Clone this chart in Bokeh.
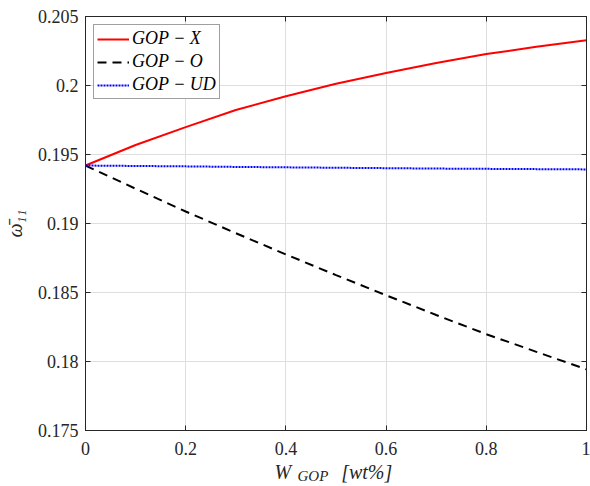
import numpy as np
from bokeh.plotting import figure
from bokeh.models import Range1d, LinearAxis, Label, Legend, LegendItem, FixedTicker
from bokeh.embed import file_html
from bokeh.resources import INLINE

# ---- data ----
w_gop = [0.0, 0.1, 0.2, 0.3, 0.4, 0.5, 0.6, 0.7, 0.8, 0.9, 1.0]
omega_gop_x = [0.19420, 0.19569, 0.19698, 0.19822, 0.19922, 0.20013, 0.20090,
               0.20163, 0.20228, 0.20280, 0.20328]
omega_gop_o = [0.19420, 0.19252, 0.19087, 0.18930, 0.18776, 0.18626, 0.18480,
               0.18337, 0.18198, 0.18070, 0.17943]
omega_gop_ud = [0.19420, 0.19417, 0.19414, 0.19410, 0.19407, 0.19404, 0.19401,
                0.19398, 0.19396, 0.19394, 0.19392]
series_labels = ["GOP \u2212 X", "GOP \u2212 O", "GOP \u2212 UD"]

x_ticks = [0, 0.2, 0.4, 0.6, 0.8, 1]
x_tick_labels = ["0", "0.2", "0.4", "0.6", "0.8", "1"]
y_ticks = [0.175, 0.18, 0.185, 0.19, 0.195, 0.2, 0.205]
y_tick_labels = ["0.175", "0.18", "0.185", "0.19", "0.195", "0.2", "0.205"]

FONT = "Liberation Serif"
AX = "#262626"

p = figure(width=590, height=486, output_backend="svg", toolbar_location=None,
           x_range=Range1d(0, 1), y_range=Range1d(0.175, 0.205),
           min_border_left=81, min_border_right=4, min_border_top=12, min_border_bottom=56)
p.background_fill_color = "white"
p.border_fill_color = "white"
p.outline_line_color = AX
p.outline_line_width = 1

r1 = p.line(w_gop, omega_gop_x, line_color="#ff0000", line_width=2)
r2 = p.line(w_gop, omega_gop_o, line_color="#000000", line_width=2, line_dash="9 6")
r3 = p.line(w_gop, omega_gop_ud, line_color="#0000ff", line_width=2, line_dash="2 1")

for ax in (p.xaxis[0], p.yaxis[0]):
    ax.axis_line_color = AX
    ax.major_tick_line_color = AX
    ax.major_tick_in = 5
    ax.major_tick_out = 0
    ax.minor_tick_line_color = None
    ax.major_label_text_font = FONT
    ax.major_label_text_font_size = "18px"
    ax.major_label_text_color = AX

p.xaxis[0].ticker = FixedTicker(ticks=x_ticks)
p.xaxis[0].major_label_overrides = {t: l for t, l in zip(x_ticks, x_tick_labels)}
p.xaxis[0].major_label_standoff = 11
p.yaxis[0].ticker = FixedTicker(ticks=y_ticks)
p.yaxis[0].major_label_overrides = {t: l for t, l in zip(y_ticks, y_tick_labels)}
p.yaxis[0].major_label_standoff = 7

p.yaxis[0].axis_label = "\u03c9\u0304\u2081\u2081"
p.yaxis[0].axis_label_text_font = FONT
p.yaxis[0].axis_label_text_font_style = "italic"
p.yaxis[0].axis_label_text_font_size = "20px"
p.yaxis[0].axis_label_text_color = AX
p.yaxis[0].axis_label_standoff = 9

# box ticks on top and right
top = LinearAxis(ticker=FixedTicker(ticks=x_ticks))
right = LinearAxis(ticker=FixedTicker(ticks=y_ticks))
for ax in (top, right):
    ax.axis_line_color = AX
    ax.major_tick_line_color = AX
    ax.major_tick_in = 5
    ax.major_tick_out = 0
    ax.minor_tick_line_color = None
    ax.major_label_text_font_size = "0px"
    ax.major_label_standoff = 0
p.add_layout(top, "above")
p.add_layout(right, "right")

p.xgrid.ticker = FixedTicker(ticks=x_ticks)
p.ygrid.ticker = FixedTicker(ticks=y_ticks)
p.grid.grid_line_color = "#dedede"
p.grid.grid_line_width = 1

# x axis label  W_GOP [wt%]
#  - main part in a panel below the axis
#  - subscript in a panel above the frame, shifted down to sit beside the W
lab_kw = dict(x_units="screen", y_units="screen", text_font=FONT, text_color=AX,
              text_baseline="alphabetic", text_align="left", text_font_style="italic")
p.add_layout(Label(x=189, y=8, text="W" + "\u00a0" * 10 + "[wt%]",
                   text_font_size="20px", **lab_kw), "below")
p.add_layout(Label(x=212, y=-459, text="GOP", text_font_size="15px", **lab_kw), "above")

legend = Legend(items=[LegendItem(label=series_labels[0], renderers=[r1]),
                       LegendItem(label=series_labels[1], renderers=[r2]),
                       LegendItem(label=series_labels[2], renderers=[r3])],
                location="top_left", margin=8, padding=3, spacing=2,
                glyph_width=32, glyph_height=20, label_height=20,
                label_standoff=3,
                label_text_font=FONT, label_text_font_style="italic",
                label_text_font_size="18px", label_text_color="black",
                border_line_color="#404040", border_line_width=1,
                background_fill_color="white", background_fill_alpha=1)
p.add_layout(legend)

open("out.html", "w").write(file_html(p, INLINE))
